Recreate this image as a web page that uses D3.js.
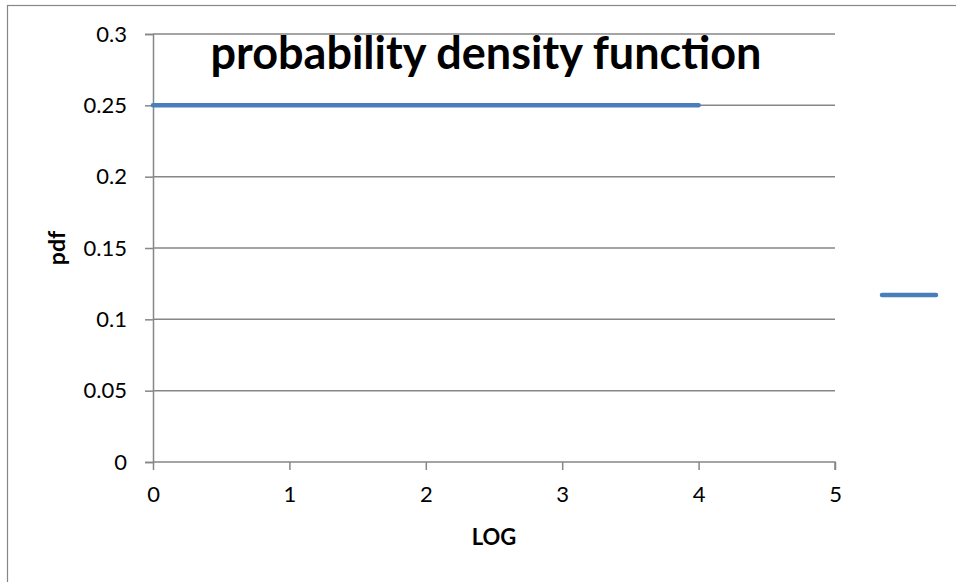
<!DOCTYPE html>
<html>
<head>
<meta charset="utf-8">
<script src="https://cdn.jsdelivr.net/npm/d3@7"></script>
<style>
  body { margin: 0; background: #fff; }
  svg { display: block; font-family: Lato, "Open Sans", sans-serif; }
</style>
</head>
<body>
<div id="chart"></div>
<script>
// series: a flat pdf over LOG 0..4
const logValues = [0, 1, 2, 3, 4];
const pdfValues = [0.25, 0.25, 0.25, 0.25, 0.25];
const xTicks = [0, 1, 2, 3, 4, 5];
const yTicks = [0, 0.05, 0.1, 0.15, 0.2, 0.25, 0.3];

const width = 956, height = 582;
const margin = { top: 34, right: 121, bottom: 120, left: 153 };

const x = d3.scaleLinear([0, 5], [margin.left, width - margin.right]);
const y = d3.scaleLinear([0, 0.3], [height - margin.bottom, margin.top]);

const svg = d3.select("#chart").append("svg")
    .attr("width", width)
    .attr("height", height)
    .attr("viewBox", [0, 0, width, height]);

// outer chart border (runs off the right and bottom)
svg.append("rect")
    .attr("x", 7.5).attr("y", 5.5)
    .attr("width", width + 10).attr("height", height + 10)
    .attr("fill", "none")
    .attr("stroke", "#868686")
    .attr("stroke-width", 1.2);

// horizontal grid lines
svg.append("g")
    .attr("stroke", "#868686")
    .attr("stroke-width", 1.5)
  .selectAll("line")
  .data(yTicks.filter(d => d > 0))
  .join("line")
    .attr("x1", x(0)).attr("x2", x(5))
    .attr("y1", d => y(d)).attr("y2", d => y(d));

const yAxis = svg.append("g")
    .attr("transform", `translate(${x(0)},0)`)
    .call(d3.axisLeft(y).tickValues(yTicks).tickSize(8).tickPadding(18)
        .tickFormat(d => d3.format("")(+d.toFixed(2))));

const xAxis = svg.append("g")
    .attr("transform", `translate(0,${y(0)})`)
    .call(d3.axisBottom(x).tickValues(xTicks).tickSize(8).tickPadding(16).tickFormat(d3.format("d")));

[xAxis, yAxis].forEach(g => {
  g.select(".domain").attr("stroke", "#868686").attr("stroke-width", 1.5);
  g.selectAll(".tick line").attr("stroke", "#868686").attr("stroke-width", 1.5);
  g.selectAll(".tick text").attr("fill", "#000").attr("font-size", 22)
      .attr("font-family", "Lato, 'Open Sans', sans-serif");
});
xAxis.select(".domain").attr("d", `M${x(0)},0H${x(5)}V8`);

// the pdf line
svg.append("path")
    .datum(logValues.map((d, i) => [d, pdfValues[i]]))
    .attr("fill", "none")
    .attr("stroke", "#4a7ebb")
    .attr("stroke-width", 4.5)
    .attr("stroke-linecap", "round")
    .attr("d", d3.line().x(d => x(d[0])).y(d => y(d[1])));

// title
svg.append("text")
    .attr("x", 486).attr("y", 69)
    .attr("text-anchor", "middle")
    .attr("font-size", 45)
    .attr("font-weight", "bold")
    .text("probability density function");

// axis titles
svg.append("text")
    .attr("transform", `translate(65,${(y(0) + y(0.3)) / 2}) rotate(-90)`)
    .attr("text-anchor", "middle")
    .attr("font-size", 23)
    .attr("font-weight", "bold")
    .text("pdf");

svg.append("text")
    .attr("x", (x(0) + x(5)) / 2).attr("y", 545)
    .attr("text-anchor", "middle")
    .attr("font-size", 22)
    .attr("font-weight", "bold")
    .text("LOG");

// legend key (no label)
svg.append("line")
    .attr("x1", 882).attr("x2", 936)
    .attr("y1", 295).attr("y2", 295)
    .attr("stroke", "#4a7ebb")
    .attr("stroke-width", 4.5)
    .attr("stroke-linecap", "round");
</script>
</body>
</html>
